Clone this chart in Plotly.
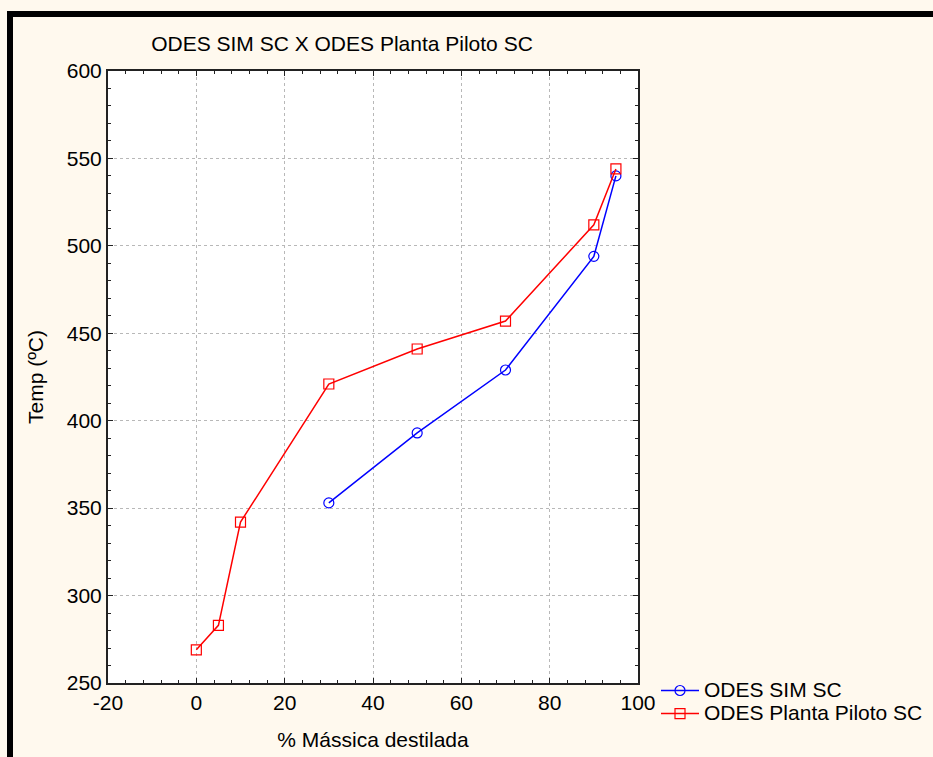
import plotly.graph_objects as go

title_text = "ODES SIM SC X ODES Planta Piloto SC"
x_label = "% Mássica destilada"
y_label = "Temp (ºC)"

x_tickvals = [-20, 0, 20, 40, 60, 80, 100]
x_ticktext = ["-20", "0", "20", "40", "60", "80", "100"]
y_tickvals = [250, 300, 350, 400, 450, 500, 550, 600]
y_ticktext = ["250", "300", "350", "400", "450", "500", "550", "600"]

sim_name = "ODES SIM SC"
sim_x = [30, 50, 70, 90, 95]
sim_y = [353, 393, 429, 494, 540]

pp_name = "ODES Planta Piloto SC"
pp_x = [0, 5, 10, 30, 50, 70, 90, 95]
pp_y = [269, 283, 342, 421, 441, 457, 512, 544]

W, H = 933, 757
L, R, T, B = 108, 295, 71, 74
pw = W - L - R
ph = H - T - B


def big(s):
    return '<span style="font-size:21px">' + s + '</span>'


fig = go.Figure()
fig.add_trace(go.Scatter(
    x=sim_x, y=sim_y, mode="lines+markers", name=big(sim_name),
    line=dict(color="#0000FF", width=1.5),
    marker=dict(symbol="circle-open", size=10, color="#0000FF", line=dict(width=1.2)),
))
fig.add_trace(go.Scatter(
    x=pp_x, y=pp_y, mode="lines+markers", name=big(pp_name),
    line=dict(color="#FF0000", width=1.5),
    marker=dict(symbol="square-open", size=10, color="#FF0000", line=dict(width=1.2)),
))

font_family = "Liberation Sans, Arial, sans-serif"
axis_common = dict(
    showline=True, linecolor="#222222", linewidth=2, mirror="ticks",
    ticks="inside", ticklen=5, tickcolor="#222222",
    showgrid=True, gridcolor="#b8b8b8", griddash="dot", gridwidth=1,
    zeroline=False,
    tickfont=dict(family=font_family, size=21, color="#000000"),
    tickmode="array",
)

fig.update_xaxes(
    range=[-20, 100], tickvals=x_tickvals, ticktext=x_ticktext,
    minor=dict(ticks="inside", dtick=4, tick0=0, ticklen=3, tickcolor="#222222", showgrid=False),
    title=dict(text=x_label, font=dict(family=font_family, size=21, color="#000"), standoff=19),
    **axis_common,
)
fig.update_yaxes(
    range=[250, 600], tickvals=y_tickvals, ticktext=y_ticktext,
    minor=dict(ticks="inside", dtick=10, tick0=0, ticklen=3, tickcolor="#222222", showgrid=False),
    title=dict(text=y_label, font=dict(family=font_family, size=21, color="#000"), standoff=17),
    **axis_common,
)

# frame bars (top and left)
fig.add_shape(type="rect", xref="paper", yref="paper",
              x0=(7 - L) / pw, x1=(W - L) / pw,
              y0=1 + (T - 17) / ph, y1=1 + (T - 11) / ph,
              fillcolor="#000000", line=dict(width=0), layer="above")
fig.add_shape(type="rect", xref="paper", yref="paper",
              x0=(7 - L) / pw, x1=(13 - L) / pw,
              y0=-(H - T - ph) / ph, y1=1 + (T - 11) / ph,
              fillcolor="#000000", line=dict(width=0), layer="above")

fig.update_layout(
    width=W, height=H,
    margin=dict(l=L, r=R, t=T, b=B, autoexpand=False),
    paper_bgcolor="#FFF9EE",
    plot_bgcolor="#FFFFFF",
    title=dict(text=title_text, x=342 / W, xanchor="center", y=1 - 44 / H, yanchor="middle",
               font=dict(family=font_family, size=21, color="#000")),
    legend=dict(x=(656 - L) / pw, xanchor="left", y=(683 - 674) / ph, yanchor="top",
                bgcolor="rgba(0,0,0,0)", font=dict(family=font_family, size=15.4, color="#000"),
                itemwidth=38, borderwidth=0, tracegroupgap=0),
    modebar=dict(bgcolor="rgba(0,0,0,0)", color="rgba(0,0,0,0)", activecolor="rgba(0,0,0,0)"),
    showlegend=True,
)

fig.write_html("out.html",
               post_script="document.body.style.margin='0';document.body.style.overflow='hidden';"
                           "var s=document.createElement('style');"
                           "s.textContent='.modebar-container{visibility:hidden!important}';"
                           "document.head.appendChild(s);")
